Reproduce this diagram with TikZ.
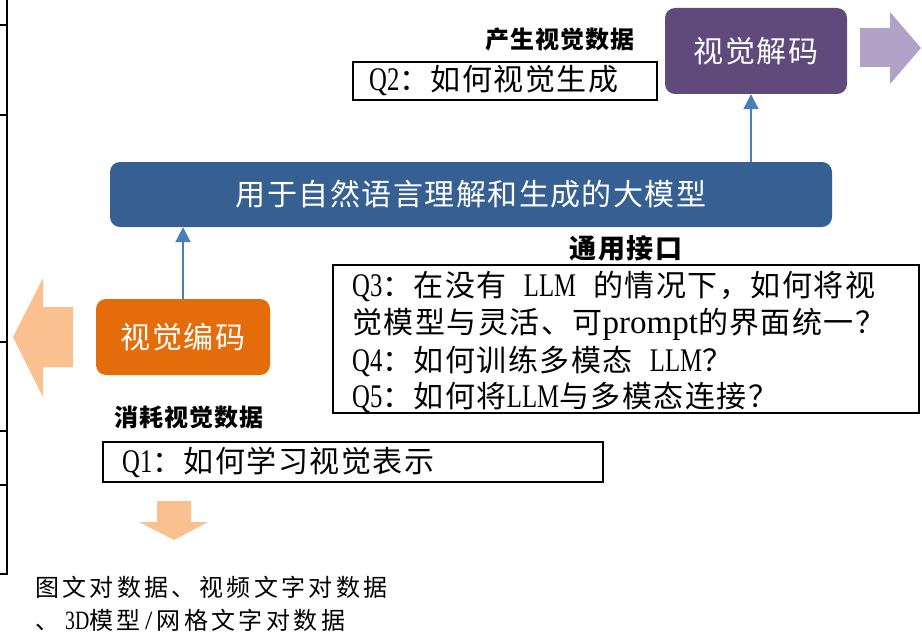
\documentclass[tikz,border=0pt]{standalone}
\usepackage{fontspec}
\setmainfont{Noto Sans CJK SC}[LetterSpace=5]
\newfontfamily\lat{Liberation Serif}[Scale=1.1,FakeStretch=0.75]
\newfontfamily\latw{Liberation Serif}[Scale=1.1]
\newfontfamily\wide{Noto Sans CJK SC}[LetterSpace=14]
\newcommand{\gap}{\hspace{17pt}}
\usetikzlibrary{arrows.meta}
\definecolor{encorange}{HTML}{E46C0A}
\definecolor{lightorange}{HTML}{FAC090}
\definecolor{llmblue}{HTML}{376092}
\definecolor{decpurple}{HTML}{604A7B}
\definecolor{lightpurple}{HTML}{B3A2C7}
\definecolor{arrblue}{HTML}{4A7EBB}
\begin{document}
\begin{tikzpicture}[x=1pt,y=-1pt,
  colbox/.style={rounded corners=10pt, inner sep=0pt, text=white, font=\fontsize{30}{36}\selectfont},
  qbox/.style={draw=black, line width=2pt, inner sep=0pt},
  qtext/.style={anchor=west, inner sep=0pt, font=\fontsize{30}{36}\selectfont},
  headtext/.style={inner sep=0pt, font=\bfseries\fontsize{24}{28}\selectfont},
  conn/.style={draw=arrblue, line width=2pt, -{Triangle[width=15pt,length=15pt]}},
  frame/.style={draw=black, line width=2pt}
]
\useasboundingbox (0,0) rectangle (922,634);

% left frame line with ticks
\draw[frame] (7,0) -- (7,574) -- (0,574);
\foreach \yy in {25,115,342,431,485} \draw[frame] (0,\yy) -- (7,\yy);

% big LLM box
\node[colbox, fill=llmblue, minimum width=722pt, minimum height=65pt] (llm) at (471,194.5)
  {用于自然语言理解和生成的大模型};

% decoder
\node[colbox, fill=decpurple, minimum width=182pt, minimum height=86pt] (dec) at (756,51) {视觉解码};
\fill[lightpurple] (860,28) -- (890,28) -- (890,12) -- (921,48) -- (890,84) -- (890,67) -- (860,67) -- cycle;

% encoder
\node[colbox, fill=encorange, minimum width=174pt, minimum height=76pt] (enc) at (183,337) {视觉编码};
\fill[lightorange] (73,307) -- (43,307) -- (43,278) -- (13,337) -- (43,397) -- (43,367) -- (73,367) -- cycle;

% connectors
\draw[conn] ([xshift=-5pt]dec.south |- llm.north) -- ([xshift=-5pt]dec.south);
\draw[conn] (enc.north) -- (enc.north |- llm.south);

% Q2
\node[headtext] (h2) at (560,39) {产生视觉数据};
\node[qbox, minimum width=304pt, minimum height=38pt] (q2box) at (505,81) {};
\node[qtext] (q2) at (369,81) {{\lat Q2}：如何视觉生成};

% Q3-Q5
\node[headtext, font=\bfseries\fontsize{27}{30}\selectfont] (h3) at (626,248) {通用接口};
\node[qbox, minimum width=586pt, minimum height=148pt] (q3box) at (626,339) {};
\node[qtext] (q3a) at (352,287) {{\lat Q3}：在没有\gap{\lat LLM}\gap 的情况下，如何将视};
\node[qtext] (q3b) at (352,324) {觉模型与灵活、可{\latw prompt}的界面统一？};
\node[qtext] (q4) at (352,361) {{\lat Q4}：如何训练多模态\gap{\lat LLM}？};
\node[qtext] (q5) at (352,398) {{\lat Q5}：如何将{\lat LLM}与多模态连接？};

% Q1
\node[headtext] (h1) at (189,417) {消耗视觉数据};
\node[qbox, minimum width=500pt, minimum height=40pt] (q1box) at (353,462) {};
\node[qtext] (q1) at (122,462) {{\lat Q1}：如何学习视觉表示};

% down arrow
\fill[lightorange] (157,501) -- (191,501) -- (191,522) -- (208,522) -- (174,540) -- (139,522) -- (157,522) -- cycle;

% bottom text
\node[anchor=west, inner sep=0pt, font=\wide\fontsize{24}{28}\selectfont] (d1) at (35,587) {图文对数据、视频文字对数据};
\node[anchor=west, inner sep=0pt, font=\wide\fontsize{24}{28}\selectfont] (d2) at (35,620) {、\hspace{6pt}{\lat 3D}模型{\latw\,/\,}网格文字对数据};
\end{tikzpicture}
\end{document}
